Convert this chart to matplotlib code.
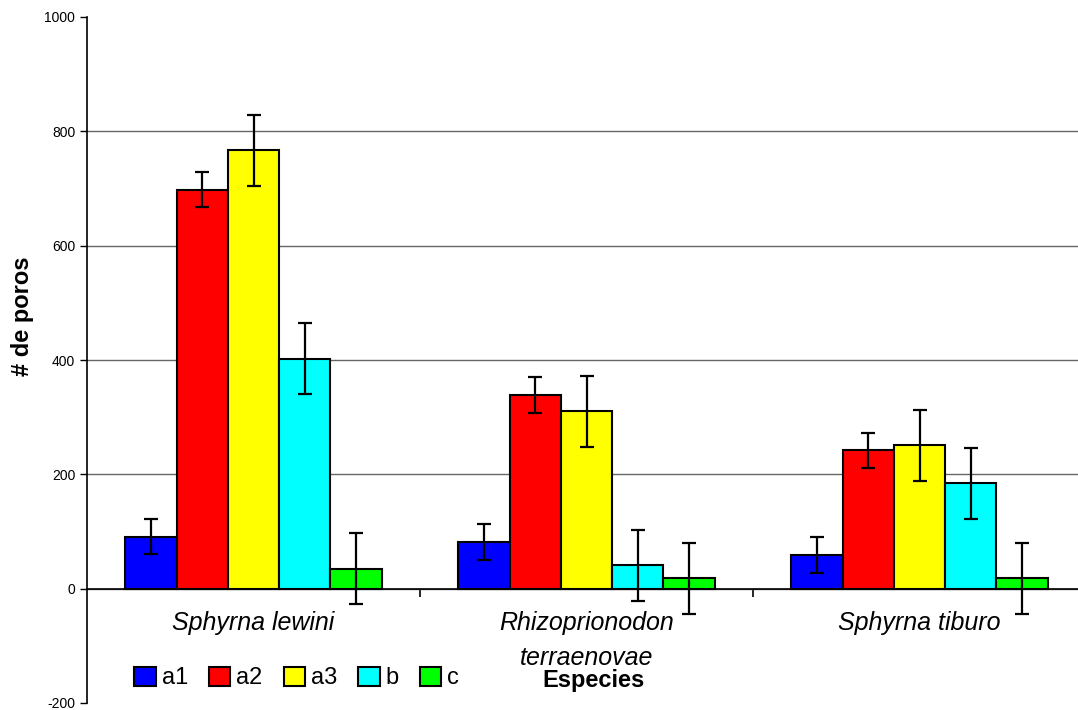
import matplotlib
matplotlib.use('Agg')
import matplotlib.pyplot as plt
import numpy as np

plt.rcParams['font.family'] = ['Liberation Sans', 'DejaVu Sans']
plt.rcParams['axes.unicode_minus'] = False

species = ['Sphyrna lewini', 'Rhizoprionodon\nterraenovae', 'Sphyrna tiburo']
series = ['a1', 'a2', 'a3', 'b', 'c']
colors = ['#0000ff', '#ff0000', '#ffff00', '#00ffff', '#00ff00']

a1 = [91, 82, 59]
a2 = [698, 339, 242]
a3 = [767, 310, 251]
b = [402, 41, 184]
c = [35, 18, 18]
values = [a1, a2, a3, b, c]

err_a1 = [31, 31, 31]
err_a2 = [31, 31, 31]
err_a3 = [62, 62, 62]
err_b = [62, 62, 62]
err_c = [62, 62, 62]
errors = [err_a1, err_a2, err_a3, err_b, err_c]

fig = plt.figure(figsize=(10.78, 7.10), dpi=100)
ax = fig.add_axes([87 / 1078, 7 / 710, 999 / 1078, 686 / 710])

x = np.arange(len(species))
width = 1 / 6.5
for i, (name, vals, errs, col) in enumerate(zip(series, values, errors, colors)):
    pos = x + (i - 2) * width
    ax.bar(pos, vals, width, color=col, edgecolor='black', linewidth=1.5,
           label=name, zorder=3)
    ax.errorbar(pos, vals, yerr=errs, fmt='none', ecolor='black',
                elinewidth=1.6, capsize=5, capthick=1.6, zorder=4)

ax.set_xlim(-0.5, 2.5)
ax.set_ylim(-200, 1000)
ax.set_yticks(range(-200, 1001, 200))
ax.tick_params(axis='y', labelsize=10, length=5, width=1, direction='out')
ax.yaxis.grid(True, color='#666666', linewidth=1)
ax.set_axisbelow(True)
# no gridline at the ends of the scale
grid = ax.get_ygridlines()
grid[0].set_visible(False)
grid[-1].set_visible(False)

ax.spines['top'].set_visible(False)
ax.spines['right'].set_visible(False)
ax.spines['bottom'].set_position(('data', 0))
ax.spines['bottom'].set_linewidth(1.2)
ax.spines['left'].set_linewidth(1.2)

ax.set_xticks([0.5, 1.5])
ax.set_xticklabels([])
ax.tick_params(axis='x', which='major', length=6, width=1.2, direction='out')
ax.set_xticks(x, minor=True)
ax.set_xticklabels(species, minor=True, fontsize=18, style='italic',
                   linespacing=1.6)
ax.tick_params(axis='x', which='minor', length=0, pad=16)

fig.text(22 / 1078, 1 - 316 / 710, '# de poros', fontsize=17,
         fontweight='bold', rotation=90, ha='center', va='center')

fig.text(594 / 1078, 1 - 680 / 710, 'Especies', fontsize=17,
         fontweight='bold', ha='center', va='center')

ax.legend(loc='center left', bbox_to_anchor=(125 / 1078, 1 - 678 / 710),
          bbox_transform=fig.transFigure, ncol=5, frameon=False, fontsize=17,
          handlelength=0.9, handleheight=0.9, handletextpad=0.25,
          columnspacing=0.9, borderaxespad=0)

fig.savefig('out.png', dpi=100)
